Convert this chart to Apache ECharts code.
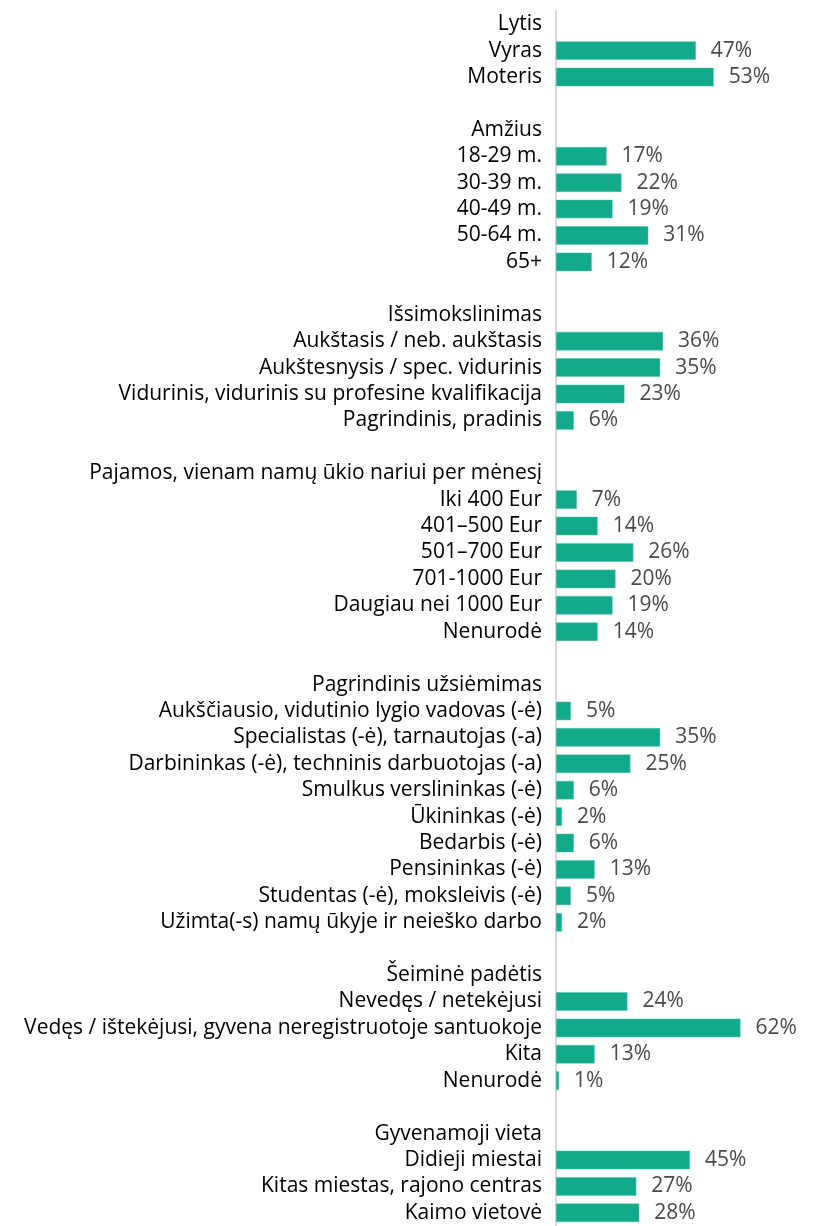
<!DOCTYPE html>
<html>
<head>
<meta charset="utf-8">
<script src="https://cdn.jsdelivr.net/npm/echarts@6/dist/echarts.min.js"></script>
<style>
  html, body { margin: 0; padding: 0; background: #fff; }
  #chart { width: 813px; height: 1226px; }
</style>
</head>
<body>
<div id="chart"></div>
<script>
// rows top to bottom; "" = blank spacer row, headers carry null values
var categories = [
  "Lytis", "Vyras", "Moteris", "",
  "Amžius", "18-29 m.", "30-39 m.", "40-49 m.", "50-64 m.", "65+", "",
  "Išsimokslinimas", "Aukštasis / neb. aukštasis", "Aukštesnysis / spec. vidurinis",
  "Vidurinis, vidurinis su profesine kvalifikacija", "Pagrindinis, pradinis", "",
  "Pajamos, vienam namų ūkio nariui per mėnesį", "Iki 400 Eur", "401–500 Eur", "501–700 Eur",
  "701-1000 Eur", "Daugiau nei 1000 Eur", "Nenurodė", "",
  "Pagrindinis užsiėmimas", "Aukščiausio, vidutinio lygio vadovas (-ė)", "Specialistas (-ė), tarnautojas (-a)",
  "Darbininkas (-ė), techninis darbuotojas (-a)", "Smulkus verslininkas (-ė)", "Ūkininkas (-ė)",
  "Bedarbis (-ė)", "Pensininkas (-ė)", "Studentas (-ė), moksleivis (-ė)",
  "Užimta(-s) namų ūkyje ir neieško darbo", "",
  "Šeiminė padėtis", "Nevedęs / netekėjusi", "Vedęs / ištekėjusi, gyvena neregistruotoje santuokoje",
  "Kita", "Nenurodė", "",
  "Gyvenamoji vieta", "Didieji miestai", "Kitas miestas, rajono centras", "Kaimo vietovė"
];

var values = [
  null, 47, 53, null,
  null, 17, 22, 19, 31, 12, null,
  null, 36, 35, 23, 6, null,
  null, 7, 14, 26, 20, 19, 14, null,
  null, 5, 35, 25, 6, 2, 6, 13, 5, 2, null,
  null, 24, 62, 13, 1, null,
  null, 45, 27, 28
];

var font = "Open Sans, sans-serif";

var chart = echarts.init(document.getElementById("chart"));

var option = {
  animation: false,
  grid: {
    left: 556,
    right: 19,
    top: 11,
    bottom: -3,
    containLabel: false
  },
  xAxis: {
    type: "value",
    min: 0,
    max: 80,
    show: false
  },
  yAxis: {
    type: "category",
    data: categories,
    inverse: true,
    axisTick: { show: false },
    axisLine: { show: true, lineStyle: { color: "#d9d9d9", width: 2 } },
    axisLabel: {
      interval: 0,
      margin: 14,
      fontSize: 21,
      color: "#000",
      fontFamily: font
    }
  },
  series: [
    {
      type: "bar",
      data: values,
      barCategoryGap: "30%",
      itemStyle: { color: "#13a98b", borderColor: "#4cc3a8", borderWidth: 0.5 },
      label: {
        show: true,
        position: "right",
        distance: 15,
        fontSize: 21,
        color: "#4a4a4a",
        fontFamily: font,
        formatter: function (p) {
          return p.value == null ? "" : p.value + "%";
        }
      }
    }
  ]
};

chart.setOption(option);
</script>
</body>
</html>
